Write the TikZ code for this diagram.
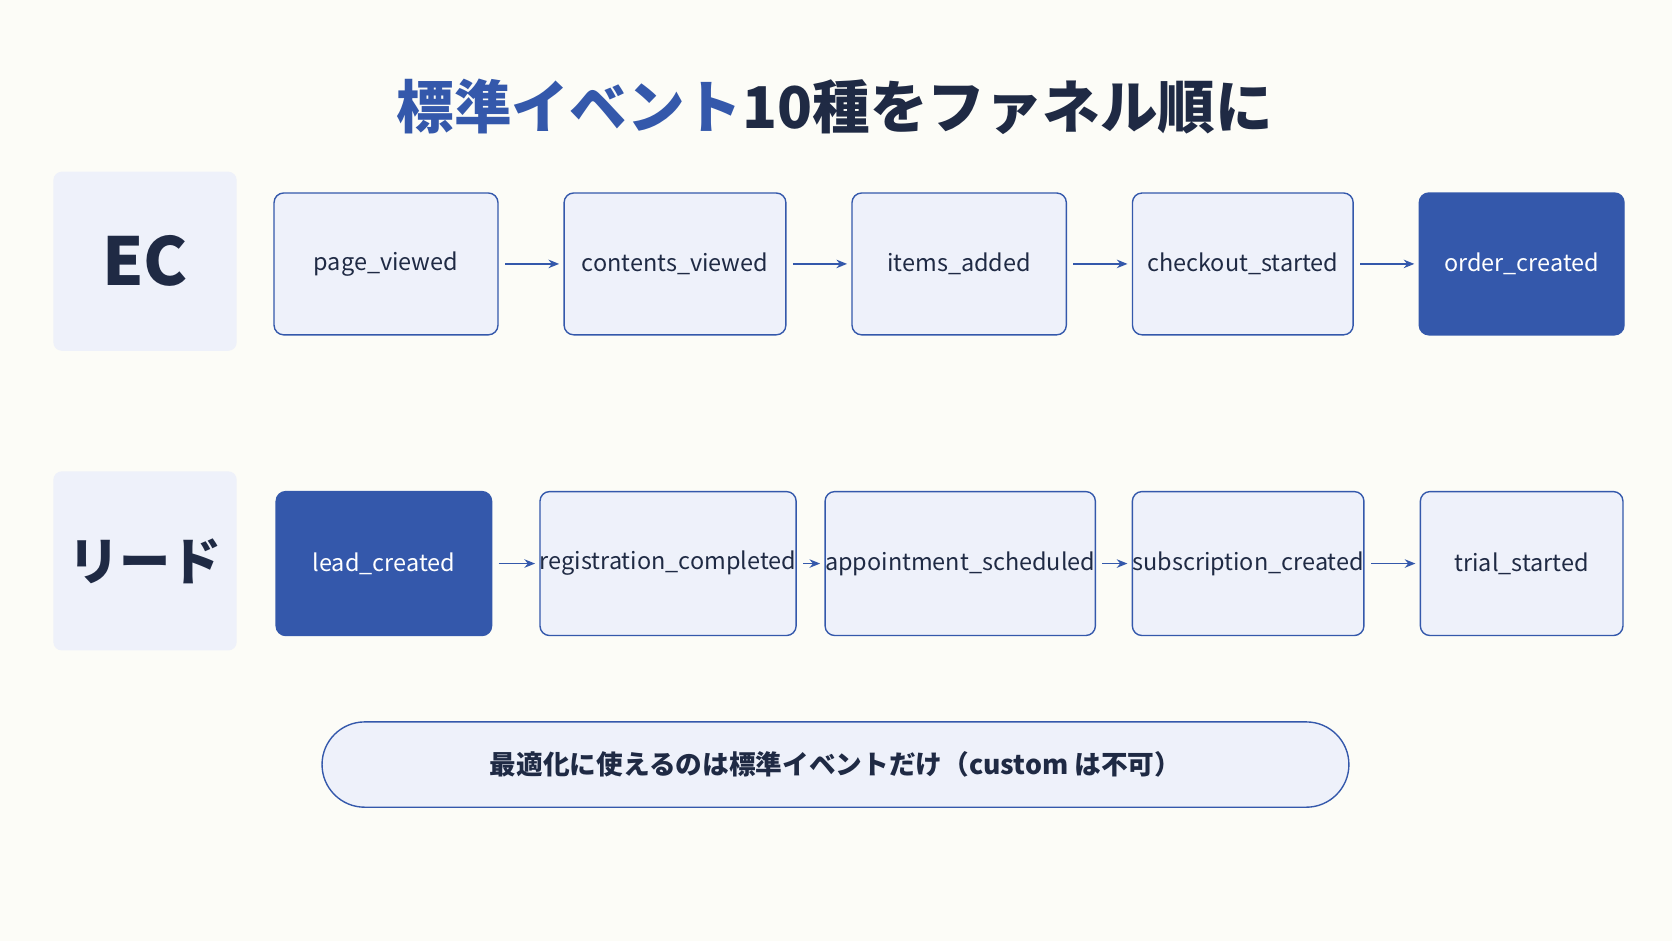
\documentclass[tikz,border=0pt]{standalone}
\usepackage{fontspec}
\setmainfont{Noto Sans CJK JP}
\usetikzlibrary{positioning,arrows.meta}
\definecolor{bg}{HTML}{FCFCF7}
\definecolor{pale}{HTML}{EEF1FA}
\definecolor{mainblue}{HTML}{3458AB}
\definecolor{navy}{HTML}{1F2A44}
\tikzset{
  stage/.style={draw=mainblue,line width=1.3pt,rounded corners=9pt,fill=pale,
    text=navy,font=\fontsize{22}{26}\selectfont,inner sep=0pt},
  goal/.style={stage,fill=mainblue,text=white},
  lane/.style={fill=pale,rounded corners=8pt,text=navy,inner sep=0pt,
    minimum width=172pt,minimum height=168pt},
  flow/.style={-{Stealth[length=10pt,width=8pt]},mainblue,line width=1.4pt,shorten <=6pt,shorten >=4pt}
}
\begin{document}
\begin{tikzpicture}[x=1pt,y=-1pt]
\fill[bg] (0,0) rectangle (1568,882);
\useasboundingbox (0,0) rectangle (1568,882);
% title
\node[font=\fontsize{54}{60}\selectfont\bfseries] (title) at (783,100)
  {\textcolor{mainblue}{標準イベント}\textcolor{navy}{10種をファネル順に}};
% EC lane
\node[lane,font=\fontsize{62}{70}\selectfont\bfseries] (ec) at (136,245) {EC};
\node[stage,minimum width=210pt,minimum height=133pt] (e1) at (362,247.5) {page\_viewed};
\node[stage,minimum width=208pt,minimum height=133pt] (e2) at (633,247.5) {contents\_viewed};
\node[stage,minimum width=201pt,minimum height=133pt] (e3) at (899.5,247.5) {items\_added};
\node[stage,minimum width=207pt,minimum height=133pt] (e4) at (1165.5,247.5) {checkout\_started};
\node[goal,minimum width=192pt,minimum height=133pt] (e5) at (1427,247.5) {order\_created};
\foreach \a/\b in {e1/e2,e2/e3,e3/e4,e4/e5}
  \draw[flow] (\a) -- (\b);
% lead lane
\node[lane,font=\fontsize{48}{56}\selectfont\bfseries] (lead) at (136,526) {リード};
\node[goal,minimum width=202pt,minimum height=135pt] (l1) at (360,528.5) {lead\_created};
\node[stage,minimum width=221pt,minimum height=135pt] (l2) at (626.5,528.5) {registration\_completed};
\node[stage,minimum width=221pt,minimum height=135pt] (l3) at (900.5,528.5) {appointment\_scheduled};
\node[stage,minimum width=217pt,minimum height=135pt] (l4) at (1170.5,528.5) {subscription\_created};
\node[stage,minimum width=190pt,minimum height=135pt] (l5) at (1427,528.5) {trial\_started};
\foreach \a/\b in {l1/l2,l2/l3,l3/l4,l4/l5}
  \draw[flow] (\a) -- (\b);
% note
\node[stage,rounded corners=40pt,minimum width=963pt,minimum height=80pt,
  font=\fontsize{25}{30}\selectfont\bfseries] (note) at (783.5,717)
  {最適化に使えるのは標準イベントだけ（custom は不可）};
\end{tikzpicture}
\end{document}
